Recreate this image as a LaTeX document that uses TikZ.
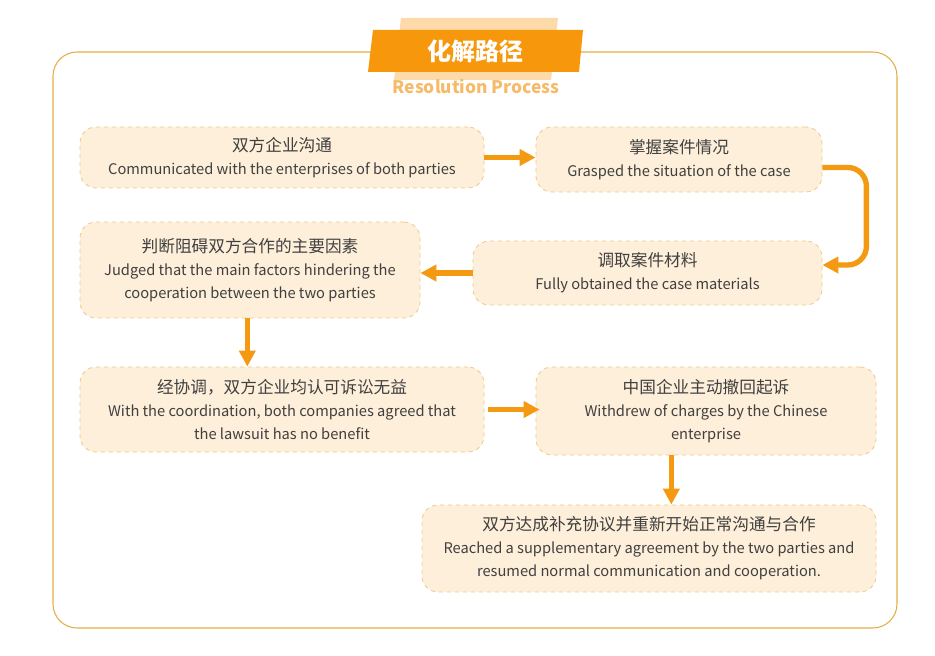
\documentclass[tikz,border=0pt]{standalone}
\usepackage{fontspec}
\setmainfont{Noto Sans CJK SC}
\usetikzlibrary{arrows.meta, positioning}

\definecolor{boxfill}{HTML}{FDEFD9}
\definecolor{boxline}{HTML}{EFC88C}
\definecolor{flowor}{HTML}{F49A12}
\definecolor{framegold}{HTML}{E3AE48}
\definecolor{bannoror}{HTML}{F7980C}
\definecolor{bannlight}{HTML}{FCDAAA}
\definecolor{subor}{HTML}{F6BA68}
\definecolor{txtgray}{HTML}{404040}

\newcommand{\cnline}[1]{{\fontsize{12.5}{17.25}\selectfont #1}}

\begin{document}
\begin{tikzpicture}[x=0.75pt, y=-0.75pt, >={Triangle[length=12pt, width=12pt]},
  stagebox/.style={rounded corners=12pt, fill=boxfill, draw=boxline, dashed,
    line width=0.6pt, align=center, text=txtgray, inner sep=0pt,
    font=\fontsize{11}{17.25}\selectfont},
  flow/.style={->, draw=flowor, line width=4pt}]
  \useasboundingbox (0,0) rectangle (935,656);

  % frame and banner
  \draw[framegold, line width=0.8pt, rounded corners=18pt] (53,52) rectangle (897,628);
  \fill[bannlight] (401,18) -- (558,18) -- (551,80) -- (394,80) -- cycle;
  \fill[bannoror] (373,30) -- (583,30) -- (579,72) -- (368,72) -- cycle;
  \node[text=white, font=\bfseries\fontsize{18}{18}\selectfont] (title) at (475,51) {化解路径};
  \node[text=subor, font=\bfseries\fontsize{13}{13}\selectfont] (subtitle) at (476,86) {Resolution Process};

  % stages
  \node[stagebox, minimum width=303pt, minimum height=45.75pt] (b1) at (282,157.5)
    {\cnline{双方企业沟通}\\Communicated with the enterprises of both parties};
  \node[stagebox, minimum width=214.5pt, minimum height=48.75pt] (b2) at (679,159.5)
    {\cnline{掌握案件情况}\\Grasped the situation of the case};
  \node[stagebox, minimum width=255pt, minimum height=72pt] (b3) at (250,270)
    {\cnline{判断阻碍双方合作的主要因素}\\Judged that the main factors hindering the\\cooperation between the two parties};
  \node[stagebox, minimum width=261.75pt, minimum height=48pt] (b4) at (647.5,273)
    {\cnline{调取案件材料}\\Fully obtained the case materials};
  \node[stagebox, minimum width=303pt, minimum height=63.75pt] (b5) at (282,409.5)
    {\cnline{经协调，双方企业均认可诉讼无益}\\With the coordination, both companies agreed that\\the lawsuit has no benefit};
  \node[stagebox, minimum width=255pt, minimum height=66pt] (b6) at (706,411)
    {\cnline{中国企业主动撤回起诉}\\Withdrew of charges by the Chinese\\enterprise};
  \node[stagebox, minimum width=340.5pt, minimum height=65.25pt] (b7) at (649,548.5)
    {\cnline{双方达成补充协议并重新开始正常沟通与合作}\\Reached a supplementary agreement by the two parties and\\resumed normal communication and cooperation.};

  % connectors
  \draw[flow] (b1.east) -- (b1.east -| b2.west);
  \draw[flow, rounded corners=14pt] ([yshift=-6pt]b2.east) -- ++(33pt,0) |- ([yshift=6pt]b4.east);
  \draw[flow] (b4.west) -- (b4.west -| b3.east);
  \draw[flow] ([xshift=-2pt]b3.south) -- ([xshift=-2pt]b3.south |- b5.north);
  \draw[flow] ([xshift=3pt]b5.east) -- ([xshift=3pt]b5.east -| b6.west);
  \draw[flow] ([xshift=-26pt]b6.south) -- ([xshift=-26pt]b6.south |- b7.north);
\end{tikzpicture}
\end{document}
